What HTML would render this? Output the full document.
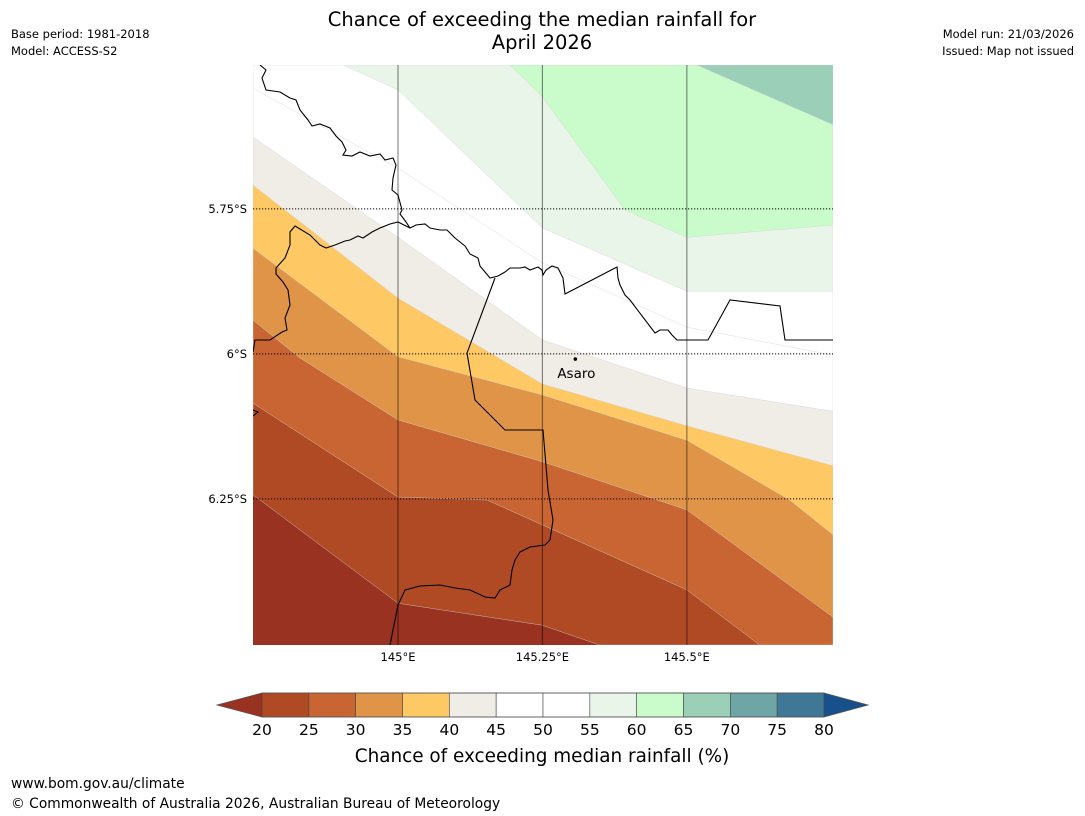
<!DOCTYPE html>
<html><head><meta charset="utf-8">
<style>
body{margin:0;background:#fff;width:1085px;height:816px;overflow:hidden;font-family:"DejaVu Sans","Liberation Sans",sans-serif;}
svg{position:absolute;left:0;top:0}
</style></head>
<body>
<svg id="chart" width="1085" height="816">
<text x="542" y="26" font-size="19.5" text-anchor="middle">Chance of exceeding the median rainfall for</text>
<text x="542" y="49" font-size="19.5" text-anchor="middle">April 2026</text>
<text x="11" y="38" font-size="11.5">Base period: 1981-2018</text>
<text x="11" y="55" font-size="11.5">Model: ACCESS-S2</text>
<text x="1074" y="38" font-size="11.5" text-anchor="end">Model run: 21/03/2026</text>
<text x="1074" y="55" font-size="11.5" text-anchor="end">Issued: Map not issued</text>
<defs><clipPath id="mapclip"><rect x="253" y="65" width="580" height="580"/></clipPath></defs>
<g id="map" clip-path="url(#mapclip)"></g>
<g id="grid"></g>
<g id="borders" clip-path="url(#mapclip)"></g>
<g id="labels"></g>
<g id="cbar"></g>
<text x="542" y="762" font-size="18.4" text-anchor="middle">Chance of exceeding median rainfall (%)</text>
<text x="11" y="788" font-size="13.8">www.bom.gov.au/climate</text>
<text x="11" y="808" font-size="13.8">© Commonwealth of Australia 2026, Australian Bureau of Meteorology</text>
</svg>
<script>
// ---- data ----
const levels = [20,25,30,35,40,45,50,55,60,65,70,75,80];
const levelColors = ["#993220","#b04a25","#c96532","#e09448","#fec965","#f0ece6","#ffffff","#ffffff","#e9f5e9","#c9fcca","#9bcfb8","#6ea6a6","#3f7896","#17508a"];
const lonTicks = [145.0,145.25,145.5];
const lonTickLabels = ["145°E","145.25°E","145.5°E"];
const latTicks = [-5.75,-6.0,-6.25];
const latTickLabels = ["5.75°S","6°S","6.25°S"];
// contour boundaries (lon, lat) for level 20..65
const b20Lon=[144.749,145.0,145.25,145.349], b20Lat=[-6.243,-6.430,-6.468,-6.502];
const b25Lon=[144.749,145.0,145.154,145.25,145.5,145.626], b25Lat=[-6.085,-6.247,-6.252,-6.295,-6.407,-6.502];
const b30Lon=[144.749,144.830,145.0,145.25,145.5,145.753], b30Lat=[-5.942,-6.007,-6.114,-6.186,-6.269,-6.454];
const b35Lon=[144.749,145.0,145.25,145.5,145.678,145.753], b35Lat=[-5.818,-6.005,-6.071,-6.149,-6.252,-6.312];
const b40Lon=[144.749,145.0,145.25,145.5,145.753], b40Lat=[-5.709,-5.904,-6.052,-6.124,-6.193];
const b45Lon=[144.749,145.0,145.25,145.5,145.753], b45Lat=[-5.626,-5.799,-5.976,-6.059,-6.099];
const b50Lon=[144.749,145.0,145.25,145.5,145.753], b50Lat=[-5.542,-5.680,-5.843,-5.954,-6.002];
const b55Lon=[144.905,145.0,145.25,145.5,145.753], b55Lat=[-5.502,-5.545,-5.783,-5.892,-5.892];
const b60Lon=[145.194,145.25,145.393,145.5,145.753], b60Lat=[-5.502,-5.557,-5.752,-5.799,-5.778];
const b65Lon=[145.517,145.753], b65Lat=[-5.502,-5.605];
const town = {name:"Asaro", lon:145.307, lat:-6.009};

// ---- axes ----
const X0=253,X1=833,Y0=65,Y1=645;
const lonMin=144.749, lonMax=145.753, latMax=-5.502, latMin=-6.502;
const xs = lon => X0 + (lon-lonMin)/(lonMax-lonMin)*(X1-X0);
const ys = lat => Y0 + (latMax-lat)/(latMax-latMin)*(Y1-Y0);
const NS="http://www.w3.org/2000/svg";
function mk(tag,attrs,parent){const e=document.createElementNS(NS,tag);for(const k in attrs)e.setAttribute(k,attrs[k]);parent.appendChild(e);return e;}

const map=document.getElementById('map');
let bg=mk('rect',{x:X0,y:Y0,width:X1-X0,height:Y1-Y0,fill:levelColors[0]},map);


const bounds=[[b20Lon,b20Lat],[b25Lon,b25Lat],[b30Lon,b30Lat],[b35Lon,b35Lat],[b40Lon,b40Lat],[b45Lon,b45Lat],[b50Lon,b50Lat],[b55Lon,b55Lat],[b60Lon,b60Lat],[b65Lon,b65Lat]];
bounds.forEach((b,i)=>{
  const pts=b[0].map((lo,j)=>[xs(lo),ys(b[1][j])]);
  const poly=pts.slice();
  const last=pts[pts.length-1], first=pts[0];
  if(last[1]>=Y1-0.5) poly.push([X1,Y1]);
  poly.push([X1,Y0]);
  if(first[0]<=X0+0.5) poly.push([X0,Y0]);
  const p=mk('polygon',{points:poly.map(q=>q.join(',')).join(' '),fill:levelColors[i+1],stroke:"#d0d4d0","stroke-width":0.4},map);
  
  
});

// borders (geographic outlines, pixel space)
const bd=document.getElementById('borders');
const borderPaths=[
 "M260,65 L266,70 262,78 266,90 280,92 290,98 296,100 300,110 308,120 312,126 320,124 330,128 336,136 342,142 346,150 343,155 352,156 360,152 370,156 380,154 385,160 393,158 396,165 393,178 392,190 398,195 402,210 400,214 406,222 410,228 416,225 425,224 430,228 440,230 447,230 455,238 465,246 470,254 478,258 480,266 485,272 490,278 498,276 505,272 510,268 520,268 525,267 530,270 538,267 542,270 543,275 546,270 552,266 558,268 563,278 565,294 617,267 618,278 620,285 625,295 630,300 655,333 660,330 668,330 672,335 677,340 708,340 730,300 780,306 785,340 833,340",
 "M253,352 L255,340 270,340 282,332 287,330 285,318 290,305 288,290 283,282 276,274 276,268 285,258 290,245 290,232 295,226 310,235 320,245 326,248 335,245 345,241 350,240 358,236 363,238 372,232 380,228 390,224 398,222 410,228",
 "M495,278 L467,353 475,400 505,430 543,430 548,490 553,520 550,540 545,545 530,547 520,552 515,560 512,570 510,585 500,590 495,598 485,597 470,590 455,588 440,585 420,586 405,590 398,605 390,645",
 "M253,410 L258,412 253,416"];
borderPaths.forEach((d,i)=>{const p=mk('path',{d:d,fill:"none",stroke:"#000","stroke-width":1.1},bd);
 
 });
const dot=mk('circle',{cx:xs(town.lon),cy:ys(town.lat),r:1.8,fill:"#000"},bd);


const tl=mk('text',{x:xs(town.lon)+1,y:ys(town.lat)+19,"font-size":13.5,"text-anchor":"middle"},document.getElementById('chart'));
tl.textContent=town.name;



// graticule
const g=document.getElementById('grid'), lab=document.getElementById('labels');
lonTicks.forEach((lo,i)=>{
  const l=mk('line',{x1:xs(lo),x2:xs(lo),y1:Y0,y2:Y1,stroke:"#000","stroke-opacity":0.45,"stroke-width":1.2},g);
  
  
  const t=mk('text',{x:xs(lo),y:661,"font-size":11.5,"text-anchor":"middle"},lab);
  t.textContent=lonTickLabels[i];
  
  
});
latTicks.forEach((la,i)=>{
  const l=mk('line',{x1:X0,x2:X1,y1:ys(la),y2:ys(la),stroke:"#000","stroke-width":1,"stroke-dasharray":"1.2,1.8"},g);
  
  
  const t=mk('text',{x:247,y:ys(la)+4,"font-size":11.5,"text-anchor":"end"},lab);
  t.textContent=latTickLabels[i];
  
  
});

// colorbar
const cb=document.getElementById('cbar');
const CB0=262, CB1=824, CBy=693, CBh=24;
const cx = v => CB0 + (v-levels[0])/(levels[levels.length-1]-levels[0])*(CB1-CB0);
const lt=mk('polygon',{points:`217,${CBy+CBh/2} ${CB0},${CBy} ${CB0},${CBy+CBh}`,fill:levelColors[0]},cb);


const rt=mk('polygon',{points:`868,${CBy+CBh/2} ${CB1},${CBy} ${CB1},${CBy+CBh}`,fill:levelColors[levelColors.length-1]},cb);


for(let i=0;i<levels.length-1;i++){
  const r=mk('rect',{x:cx(levels[i]),y:CBy,width:cx(levels[i+1])-cx(levels[i]),height:CBh,fill:levelColors[i+1],stroke:"#444","stroke-width":0.6},cb);
  
  
}
mk('polygon',{points:`217,${CBy+CBh/2} ${CB0},${CBy} ${CB1},${CBy} 868,${CBy+CBh/2} ${CB1},${CBy+CBh} ${CB0},${CBy+CBh}`,fill:"none",stroke:"#555","stroke-width":0.8},cb);
levels.forEach(v=>{
  const t=mk('text',{x:cx(v),y:735,"font-size":15.5,"text-anchor":"middle"},cb);
  t.textContent=v;
  
  
});
</script>
</body></html>
